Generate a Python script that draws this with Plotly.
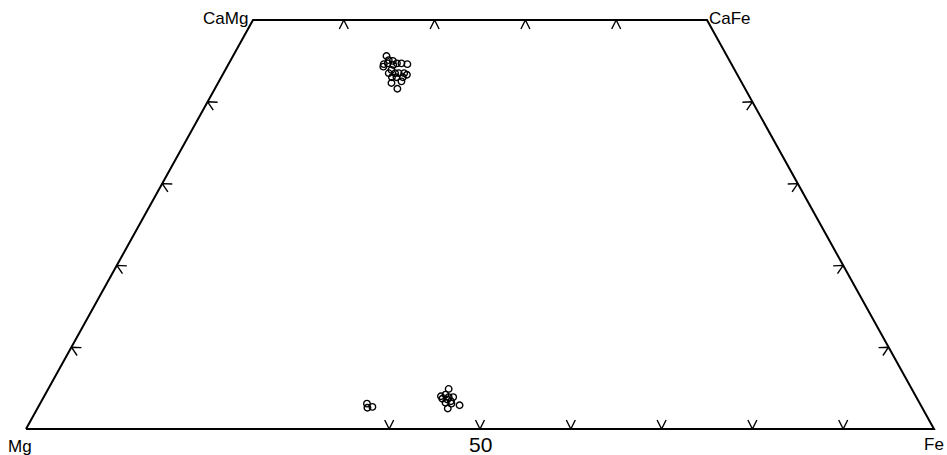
import plotly.graph_objects as go

# Pyroxene quadrilateral: Wo (Ca) upward, Fs (Fe) to the right.
# Cartesian projection: x = Fs + Wo/2, y = Wo  (top edge is Wo = 50)

corner_labels = ["Mg", "Fe", "CaFe", "CaMg"]
corner_wo = [0, 0, 50, 50]
corner_fs = [0, 100, 50, 0]

# Ca-rich pyroxenes (augite)
aug_wo = [45.6, 44.6, 44.3, 45.1, 45.0, 44.7, 44.7, 44.6, 44.7, 44.5, 43.9,
          43.5, 43.5, 43.5, 43.5, 43.3, 43.0, 43.0, 43.0, 42.3, 42.5, 41.6]
aug_fs = [16.9, 17.1, 17.2, 17.4, 17.9, 18.5, 19.0, 19.7, 17.5, 18.2, 18.3,
          18.2, 18.9, 19.3, 19.9, 20.3, 20.0, 18.8, 19.3, 19.1, 20.1, 20.1]

# Ca-poor pyroxenes
opx_wo = [3.1, 2.6, 2.7]
opx_fs = [36.0, 36.3, 36.8]
pig_wo = [4.9, 4.0, 4.2, 3.9, 3.9, 3.7, 3.6, 3.4, 3.2, 3.1, 2.9, 2.5]
pig_fs = [44.1, 43.7, 44.1, 44.6, 45.1, 44.0, 44.6, 45.1, 44.6, 45.3, 46.3, 45.2]

# Tick fractions along each edge
bottom_ticks = [40, 50, 60, 70, 80, 90]
top_ticks = [20, 40, 60, 80]
side_ticks = [0.2, 0.4, 0.6, 0.8]
bottom_label = "50"

# Figure geometry (pixels)
W, H = 947, 455
PX0, PX1 = 26, 934      # x of Mg and Fe
PY0, PY1 = 429, 20      # y of base and top edge
sx = (PX1 - PX0) / 100.0
sy = (PY0 - PY1) / 50.0
x_range = [-PX0 / sx, (W - PX0) / sx]
y_range = [-(H - PY0) / sy, (PY0) / sy]


def proj(wo, fs):
    return [f + w / 2.0 for w, f in zip(wo, fs)], list(wo)


cx, cy = proj(corner_wo, corner_fs)

fig = go.Figure()

# Outline
fig.add_trace(go.Scatter(
    x=cx + [cx[0]], y=cy + [cy[0]], mode="lines",
    line=dict(color="black", width=2), hoverinfo="skip", showlegend=False))


def chevron(x, y, nx, ny, tx, ty, depth=9.0, half=4.5):
    """Chevron with its vertex on the edge, arms pointing inward (pixel units)."""
    ax = x + (depth * nx + half * tx) / sx
    ay = y + (depth * ny + half * ty) / sy
    bx = x + (depth * nx - half * tx) / sx
    by = y + (depth * ny - half * ty) / sy
    return [ax, x, bx, None], [ay, y, by, None]


tkx, tky = [], []
# base: arms upward
for f in bottom_ticks:
    a, b = chevron(f, 0, 0, 1, 1, 0)
    tkx += a; tky += b
# top: arms downward
for f in top_ticks:
    x = cx[3] + (cx[2] - cx[3]) * f / 100.0
    a, b = chevron(x, 50, 0, -1, 1, 0)
    tkx += a; tky += b


def side(p0, p1, inward_sign):
    xs, ys = [], []
    dxp = (p1[0] - p0[0]) * sx
    dyp = (p1[1] - p0[1]) * sy
    L = (dxp ** 2 + dyp ** 2) ** 0.5
    tx, ty = dxp / L, dyp / L
    nx, ny = inward_sign * ty, -inward_sign * tx
    for f in side_ticks:
        x = p0[0] + (p1[0] - p0[0]) * f
        y = p0[1] + (p1[1] - p0[1]) * f
        a, b = chevron(x, y, nx, ny, tx, ty)
        xs += a; ys += b
    return xs, ys


a, b = side((cx[0], cy[0]), (cx[3], cy[3]), 1)
tkx += a; tky += b
a, b = side((cx[1], cy[1]), (cx[2], cy[2]), -1)
tkx += a; tky += b

fig.add_trace(go.Scatter(
    x=tkx, y=tky, mode="lines", line=dict(color="black", width=1.4),
    hoverinfo="skip", showlegend=False))

marker = dict(symbol="circle-open", size=6.5, color="black", line=dict(width=1.4))
for wo, fs, name in [(aug_wo, aug_fs, "augite"), (opx_wo, opx_fs, "orthopyroxene"),
                     (pig_wo, pig_fs, "pigeonite")]:
    px, py = proj(wo, fs)
    fig.add_trace(go.Scatter(x=px, y=py, mode="markers", marker=marker,
                             name=name, showlegend=False))

font = dict(family="Liberation Sans, Arial, sans-serif", size=17, color="black")
font_num = dict(family="Liberation Sans, Arial, sans-serif", size=21, color="black")
ann = [
    dict(x=cx[0], y=cy[0], text=corner_labels[0], xanchor="center", yanchor="top",
         xshift=-6, yshift=-6, font=font),
    dict(x=cx[1], y=cy[1], text=corner_labels[1], xanchor="center", yanchor="top",
         xshift=0, yshift=-4, font=font),
    dict(x=cx[2], y=cy[2], text=corner_labels[2], xanchor="left", yanchor="middle",
         xshift=0, yshift=2, font=font),
    dict(x=cx[3], y=cy[3], text=corner_labels[3], xanchor="right", yanchor="middle",
         xshift=-3, yshift=2, font=font),
    dict(x=50, y=0, text=bottom_label, xanchor="center", yanchor="top",
         xshift=0, yshift=-2, font=font_num),
]
for a_ in ann:
    a_.update(xref="x", yref="y", showarrow=False)

fig.update_layout(
    width=W, height=H, margin=dict(l=0, r=0, t=0, b=0),
    paper_bgcolor="white", plot_bgcolor="white",
    xaxis=dict(range=x_range, visible=False, fixedrange=True),
    yaxis=dict(range=y_range, visible=False, fixedrange=True),
    annotations=ann,
)

fig.write_html("out.html")
